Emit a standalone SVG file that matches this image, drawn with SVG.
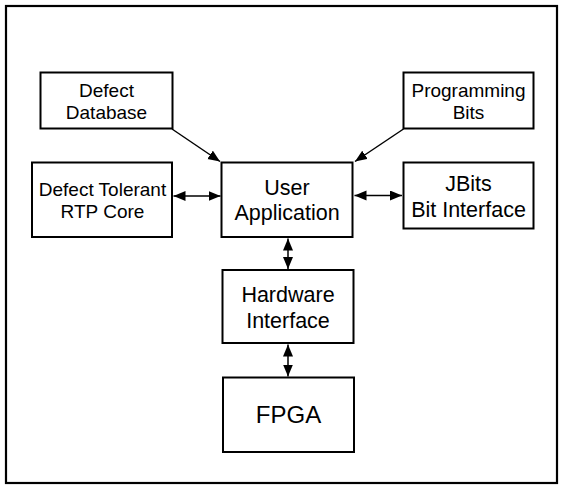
<svg xmlns="http://www.w3.org/2000/svg" width="563" height="485" viewBox="0 0 563 485">
<style>
.box{fill:#fff;stroke:#000;stroke-width:2}
.t{font-family:"Liberation Sans",Arial,sans-serif;fill:#000;text-anchor:middle}
.s{font-size:19px}
.m{font-size:21.5px}
.l{font-size:24px}
.c{stroke:#000;stroke-width:1.5;fill:none}
</style>
<defs>
<marker id="ah" markerUnits="userSpaceOnUse" markerWidth="13" markerHeight="11" refX="12" refY="5" orient="auto-start-reverse" viewBox="0 0 13 11">
<path d="M0,0 L12,5 L0,10 z" fill="#000"/>
</marker>
</defs>
<rect x="6" y="6" width="551" height="477" fill="#fff" stroke="#000" stroke-width="2.2"/>
<g id="defect-database"><rect class="box" x="40.5" y="72.5" width="132" height="56"/><text class="t s" x="106.5" y="96.5">Defect</text><text class="t s" x="106.5" y="118.5">Database</text></g>
<g id="programming-bits"><rect class="box" x="403.5" y="72.5" width="130" height="56"/><text class="t s" x="468.5" y="96.5">Programming</text><text class="t s" x="468.5" y="118.5">Bits</text></g>
<g id="defect-tolerant"><rect class="box" x="32" y="162.5" width="140" height="74.5"/><text class="t s" x="102.5" y="195.5">Defect Tolerant</text><text class="t s" x="102.5" y="217.5">RTP Core</text></g>
<g id="user-application"><rect class="box" x="221.5" y="162.5" width="131" height="74.5"/><text class="t m" x="287" y="194.5">User</text><text class="t m" x="287" y="220">Application</text></g>
<g id="jbits"><rect class="box" x="403.5" y="162.5" width="130" height="66"/><text class="t m" x="468.5" y="190.5">JBits</text><text class="t m" x="468.5" y="217">Bit Interface</text></g>
<g id="hardware-interface"><rect class="box" x="222.5" y="270" width="131" height="73"/><text class="t m" x="288" y="301.5">Hardware</text><text class="t m" x="288" y="327.5">Interface</text></g>
<g id="fpga"><rect class="box" x="223" y="377.5" width="131" height="74.5"/><text class="t l" x="288.5" y="422.5">FPGA</text></g>
<g id="connectors">
<line class="c" x1="172" y1="129" x2="220" y2="161.5" marker-end="url(#ah)"/>
<line class="c" x1="403.5" y1="129" x2="355" y2="161.5" marker-end="url(#ah)"/>
<line class="c" x1="173.5" y1="196" x2="220.5" y2="196" marker-start="url(#ah)" marker-end="url(#ah)"/>
<line class="c" x1="354.5" y1="195.5" x2="402" y2="195.5" marker-start="url(#ah)" marker-end="url(#ah)"/>
<line class="c" x1="288" y1="238.5" x2="288" y2="269" marker-start="url(#ah)" marker-end="url(#ah)"/>
<line class="c" x1="288" y1="344.5" x2="288" y2="376.5" marker-start="url(#ah)" marker-end="url(#ah)"/>
</g>
</svg>
